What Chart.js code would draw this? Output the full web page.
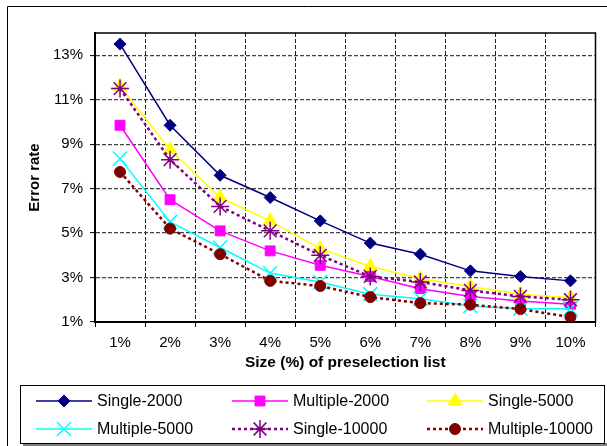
<!DOCTYPE html>
<html>
<head>
<meta charset="utf-8">
<title>Error rate chart</title>
<style>
    body { margin: 0; background: #fff; }
    #myChart { display: block; }
</style>
</head>
<body>
<canvas id="myChart" width="607" height="446"></canvas>

<script src="https://cdn.jsdelivr.net/npm/chart.js"></script>

<script>
    // values (error rate in %)
    const categories = ['1%', '2%', '3%', '4%', '5%', '6%', '7%', '8%', '9%', '10%'];
    const yTicks = [1, 3, 5, 7, 9, 11, 13];

    const seriesNames = ['Single-2000', 'Multiple-2000', 'Single-5000', 'Multiple-5000', 'Single-10000', 'Multiple-10000'];
    const single2000 = [13.5, 9.85, 7.6, 6.6, 5.55, 4.55, 4.05, 3.3, 3.05, 2.85];
    const multiple2000 = [9.85, 6.5, 5.1, 4.2, 3.55, 3.05, 2.5, 2.15, 1.95, 1.8];
    const single5000 = [11.6, 8.75, 6.6, 5.55, 4.3, 3.5, 2.95, 2.6, 2.25, 2.1];
    const multiple5000 = [8.35, 5.5, 4.35, 3.2, 2.8, 2.25, 2.05, 1.72, 1.6, 1.6];
    const single10000 = [11.5, 8.3, 6.2, 5.1, 4.0, 3.05, 2.8, 2.42, 2.15, 2.0];
    const multiple10000 = [7.75, 5.2, 4.05, 2.85, 2.62, 2.12, 1.85, 1.78, 1.58, 1.22];

    const font = "'Liberation Sans', Arial, sans-serif";

    function series(i, data, color, style, radius, dashed) {
        return {
            label: seriesNames[i],
            data: data,
            borderColor: color,
            backgroundColor: color,
            borderWidth: dashed ? 2.5 : 1.5,
            borderDash: dashed ? [3, 3] : [],
            pointStyle: style,
            pointRadius: radius,
            pointHoverRadius: radius,
            pointBorderWidth: (style === 'crossRot' || style === 'star') ? 1.5 : 1,
            tension: 0,
            fill: false,
            order: 6 - i // later series on top, like the original
        };
    }

    // frame round the plot area and the outer chart border
    const framePlugin = {
        id: 'frame',
        beforeDatasetsDraw(chart) {
            const { ctx, chartArea: a } = chart;
            ctx.save();
            ctx.strokeStyle = '#000';
            ctx.lineWidth = 1.5;
            ctx.strokeRect(a.left, a.top, a.right - a.left, a.bottom - a.top);
            ctx.restore();
        },
        afterDraw(chart) {
            const ctx = chart.ctx;
            ctx.save();
            ctx.strokeStyle = '#000';
            ctx.lineWidth = 1;
            ctx.beginPath();
            ctx.moveTo(7.5, 446);
            ctx.lineTo(7.5, 6.5);
            ctx.lineTo(607, 6.5);
            ctx.stroke();
            ctx.restore();
        }
    };

    // legend in a box, three fixed columns and two rows
    const legendPlugin = {
        id: 'boxLegend',
        afterDraw(chart) {
            const ctx = chart.ctx;
            const colX = [36, 232, 427];
            const rowY = [401, 429];
            ctx.save();
            ctx.fillStyle = '#808080';
            ctx.fillRect(23, 443, 584, 3);
            ctx.fillStyle = '#fff';
            ctx.fillRect(20.5, 385.5, 584, 58);
            ctx.strokeStyle = '#000';
            ctx.lineWidth = 1;
            ctx.strokeRect(20.5, 385.5, 584, 58);

            chart.data.datasets.forEach((ds, i) => {
                const x0 = colX[i % 3];
                const y = rowY[Math.floor(i / 3)];
                ctx.save();
                ctx.strokeStyle = ds.borderColor;
                ctx.lineWidth = ds.borderWidth;
                ctx.setLineDash(ds.borderDash);
                ctx.beginPath();
                ctx.moveTo(x0, y);
                ctx.lineTo(x0 + 56, y);
                ctx.stroke();
                ctx.setLineDash([]);
                ctx.fillStyle = ds.backgroundColor;
                ctx.lineWidth = ds.pointBorderWidth;
                Chart.helpers.drawPoint(ctx, {
                    pointStyle: ds.pointStyle,
                    radius: ds.pointRadius,
                    rotation: 0,
                    borderWidth: ds.pointBorderWidth
                }, x0 + 28, y);
                ctx.restore();

                ctx.fillStyle = '#000';
                ctx.font = '16px ' + font;
                ctx.textAlign = 'left';
                ctx.textBaseline = 'middle';
                ctx.fillText(ds.label, x0 + 61, y + 1);
            });
            ctx.restore();
        }
    };

    const ctx = document.getElementById('myChart');

    new Chart(ctx, {
        type: 'line',
        data: {
            labels: categories,
            datasets: [
                series(0, single2000, '#000080', 'rectRot', 6, false),
                series(1, multiple2000, '#FF00FF', 'rect', 7, false),
                series(2, single5000, '#FFFF00', 'triangle', 8, false),
                series(3, multiple5000, '#00FFFF', 'crossRot', 10, false),
                series(4, single10000, '#800080', 'star', 9, true),
                series(5, multiple10000, '#800000', 'circle', 5.5, true)
            ]
        },
        options: {
            responsive: false,
            animation: false,
            events: [],
            layout: { padding: { left: 0, top: 33, right: 5, bottom: 0 } },
            plugins: {
                legend: { display: false },
                tooltip: { enabled: false }
            },
            scales: {
                x: {
                    type: 'category',
                    offset: true,
                    grid: {
                        offset: true,
                        color: '#222',
                        lineWidth: 1,
                        tickLength: 5,
                        tickColor: '#000',
                        tickWidth: 1
                    },
                    border: { display: true, color: '#000', width: 2, dash: [4, 2] },
                    ticks: { color: '#000', font: { family: font, size: 15 }, padding: 7, maxRotation: 0 },
                    title: {
                        display: true,
                        text: 'Size (%) of preselection list',
                        color: '#000',
                        font: { family: font, size: 15.5, weight: 'bold' },
                        padding: { top: 0, bottom: 74 }
                    },
                    afterFit(scale) { scale.height = 124; }
                },
                y: {
                    min: 1,
                    max: 14,
                    grid: {
                        color: '#444',
                        lineWidth: 1.2,
                        tickLength: 5,
                        tickColor: '#000',
                        tickWidth: 1
                    },
                    border: { display: true, color: '#000', width: 2, dash: [4, 2] },
                    ticks: {
                        color: '#000',
                        font: { family: font, size: 15 },
                        padding: 7,
                        callback: (v) => v + '%'
                    },
                    afterBuildTicks(scale) {
                        scale.ticks = yTicks.map(v => ({ value: v }));
                    },
                    title: {
                        display: true,
                        text: 'Error rate',
                        color: '#000',
                        font: { family: font, size: 15, weight: 'bold' },
                        padding: { top: 26, bottom: 0 }
                    },
                    afterFit(scale) { scale.width = 95; }
                }
            }
        },
        plugins: [framePlugin, legendPlugin]
    });
</script>
</body>
</html>
